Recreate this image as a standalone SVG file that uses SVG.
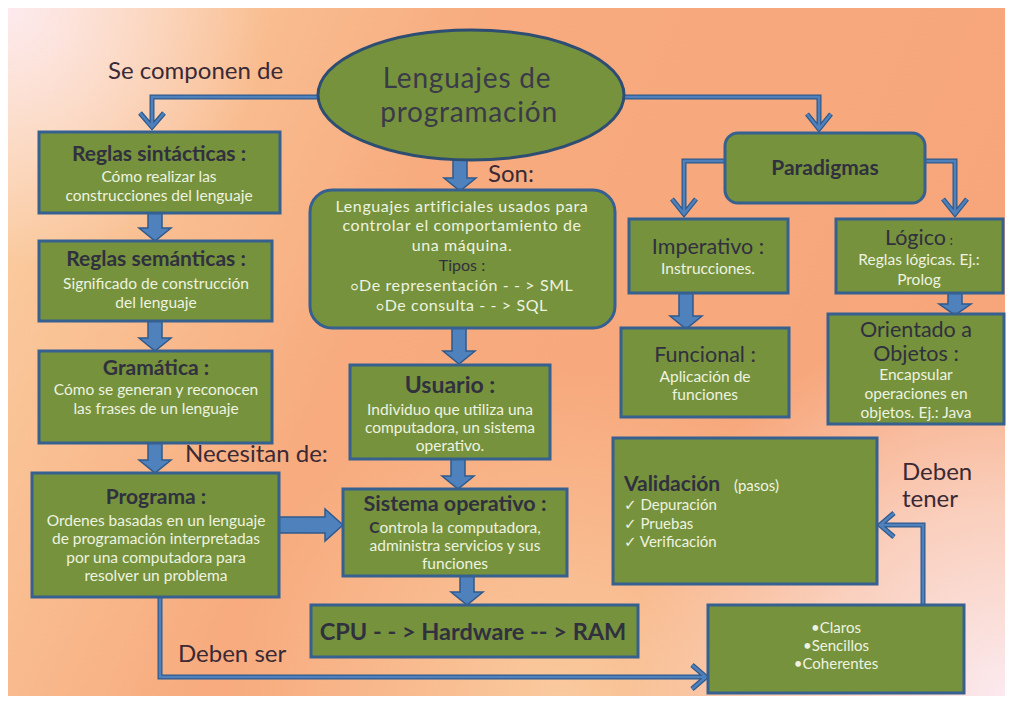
<svg xmlns="http://www.w3.org/2000/svg" width="1013" height="702" viewBox="0 0 1013 702">
<defs>
<linearGradient id="bg" x1="0" y1="0" x2="1" y2="0.3">
<stop offset="0" stop-color="#fbd2a5"/>
<stop offset="0.45" stop-color="#f7ab7e"/>
<stop offset="1" stop-color="#f7a67b"/>
</linearGradient>
<radialGradient id="tl" cx="8" cy="8" r="260" gradientUnits="userSpaceOnUse">
<stop offset="0" stop-color="#fdeaee" stop-opacity="1"/>
<stop offset="1" stop-color="#fdeaee" stop-opacity="0"/>
</radialGradient>
<radialGradient id="br" cx="1005" cy="695" r="380" gradientUnits="userSpaceOnUse">
<stop offset="0" stop-color="#fbeaf0" stop-opacity="1"/>
<stop offset="0.5" stop-color="#fbe0d8" stop-opacity="0.7"/>
<stop offset="1" stop-color="#fbe0d8" stop-opacity="0"/>
</radialGradient>
<radialGradient id="bc" cx="560" cy="700" r="330" gradientUnits="userSpaceOnUse">
<stop offset="0" stop-color="#fad2a6" stop-opacity="0.8"/>
<stop offset="1" stop-color="#fad2a6" stop-opacity="0"/>
</radialGradient>
<style>
.box{fill:#76923c;stroke:#35608f;stroke-width:3}
.ell{fill:#76923c;stroke:#2d4d73;stroke-width:3}
.blk{fill:#4f81bd;stroke:#2f5a8c;stroke-width:1.5}
.ln{fill:none;stroke:#2f5a8c;stroke-width:5;stroke-linejoin:miter}
.lni{fill:none;stroke:#4f81bd;stroke-width:2.5;stroke-linejoin:miter}
text{font-family:Lato,"DejaVu Sans",sans-serif;text-anchor:middle}
.t{fill:#30303f;font-weight:bold;font-size:21px}
.tn{fill:#30303f;font-size:21.5px}
.w{fill:#eef3e0;font-size:15.5px}
.s{fill:#eef3e0;font-size:15px}
.lbl{fill:#3a2a35;font-size:24px;text-anchor:start}
.son{fill:#eef3e0;font-size:16px;letter-spacing:0.6px}
</style>
</defs>
<rect x="0" y="0" width="1013" height="702" fill="#ffffff"/>
<rect x="8" y="8" width="997" height="688" fill="url(#bg)"/>
<rect x="8" y="8" width="997" height="688" fill="url(#bc)"/>
<rect x="8" y="8" width="997" height="688" fill="url(#tl)"/>
<rect x="8" y="8" width="997" height="688" fill="url(#br)"/>

<g id="connectors">
<path class="ln" d="M318 97 H152 V126 M140 113 L152 127 L164 113"/>
<path class="lni" d="M318 97 H152 V126 M140 113 L152 127 L164 113"/>
<path class="ln" d="M625 97 H819 V128 M807 114 L819 129 L831 114"/>
<path class="lni" d="M625 97 H819 V128 M807 114 L819 129 L831 114"/>
<path class="ln" d="M725 161 H684 V213 M672 199 L684 214 L696 199"/>
<path class="lni" d="M725 161 H684 V213 M672 199 L684 214 L696 199"/>
<path class="ln" d="M925 161 H955 V213 M943 199 L955 214 L967 199"/>
<path class="lni" d="M925 161 H955 V213 M943 199 L955 214 L967 199"/>
<path class="ln" d="M160 597 V677 H705 M692 665 L706 677 L692 689"/>
<path class="lni" d="M160 597 V677 H705 M692 665 L706 677 L692 689"/>
<path class="ln" d="M923 605 V525 H881 M894 513 L880 525 L894 537"/>
<path class="lni" d="M923 605 V525 H881 M894 513 L880 525 L894 537"/>
<path class="blk" d="M453 158 H467 V178 H476 L460 191 L444 178 H453 Z"/>
<path class="blk" d="M452 328 H466 V351 H475 L459 364 L443 351 H452 Z"/>
<path class="blk" d="M451 459 H465 V476 H474 L458 489 L442 476 H451 Z"/>
<path class="blk" d="M460 576 H474 V592 H483 L467 605 L451 592 H460 Z"/>
<path class="blk" d="M148 213 H162 V228 H171 L155 241 L139 228 H148 Z"/>
<path class="blk" d="M148 321 H162 V338 H171 L155 351 L139 338 H148 Z"/>
<path class="blk" d="M148 443 H162 V460 H171 L155 473 L139 460 H148 Z"/>
<path class="blk" d="M679 293 H693 V316 H702 L686 329 L670 316 H679 Z"/>
<path class="blk" d="M948 293 H962 V304 H971 L955 315 L939 304 H948 Z"/>
<path class="blk" d="M279 517 H325 V509 L343 525 L325 541 V533 H279 Z"/>
</g>

<text class="lbl" x="108" y="79">Se componen de</text>
<text class="lbl" x="488" y="182">Son:</text>
<text class="lbl" x="185" y="462">Necesitan de:</text>
<text class="lbl" x="178" y="662">Deben ser</text>
<text class="lbl" x="902" y="480">Deben</text>
<text class="lbl" x="902" y="507">tener</text>

<g id="n-lenguajes">
<ellipse class="ell" cx="471" cy="95" rx="153" ry="65"/>
<text x="467" y="88" style="fill:#3a3a48;font-size:28px;letter-spacing:0.8px">Lenguajes de</text>
<text x="469" y="122" style="fill:#3a3a48;font-size:28px;letter-spacing:0.8px">programación</text>
</g>

<g id="n-sintacticas">
<rect class="box" x="39" y="132" width="241" height="81"/>
<text class="t" x="159" y="161">Reglas sintácticas :</text>
<text class="w" x="159" y="182">Cómo realizar las</text>
<text class="w" x="159" y="201">construcciones del lenguaje</text>
</g>

<g id="n-semanticas">
<rect class="box" x="39" y="241" width="233" height="80"/>
<text class="t" x="156" y="266">Reglas semánticas :</text>
<text class="w" x="156" y="289">Significado de construcción</text>
<text class="w" x="156" y="308">del lenguaje</text>
</g>

<g id="n-gramatica">
<rect class="box" x="39" y="351" width="233" height="92"/>
<text class="t" x="156" y="375">Gramática :</text>
<text class="w" x="156" y="395">Cómo se generan y reconocen</text>
<text class="w" x="156" y="414">las frases de un lenguaje</text>
</g>

<g id="n-programa">
<rect class="box" x="32" y="473" width="247" height="124"/>
<text class="t" x="156" y="504">Programa :</text>
<text class="w" x="156" y="526">Ordenes basadas en un lenguaje</text>
<text class="w" x="156" y="544">de programación interpretadas</text>
<text class="w" x="156" y="563">por una computadora para</text>
<text class="w" x="156" y="581">resolver un problema</text>
</g>

<g id="n-son">
<rect class="box" x="310" y="190" width="305" height="138" rx="22"/>
<text class="son" x="462" y="212">Lenguajes artificiales usados para</text>
<text class="son" x="462" y="231">controlar el comportamiento  de</text>
<text class="son" x="462" y="251">una máquina.</text>
<text class="son" x="462" y="271" style="fill:#30303f;letter-spacing:0">Tipos :</text>
<text class="son" x="462" y="291"><tspan font-size="12">○</tspan>De representación  - - &gt; SML</text>
<text class="son" x="462" y="311"><tspan font-size="12">○</tspan>De consulta - - &gt; SQL</text>
</g>

<g id="n-usuario">
<rect class="box" x="350" y="365" width="200" height="94"/>
<text class="t" x="450" y="393" style="font-size:23px">Usuario :</text>
<text class="w" x="450" y="415">Individuo que utiliza una</text>
<text class="w" x="450" y="433">computadora, un sistema</text>
<text class="w" x="450" y="451">operativo.</text>
</g>

<g id="n-sistema">
<rect class="box" x="343" y="489" width="224" height="87"/>
<text class="t" x="455" y="511" style="font-size:21.5px">Sistema operativo :</text>
<text class="w" x="455" y="533"><tspan style="fill:#30303f;font-weight:bold">C</tspan>ontrola la computadora,</text>
<text class="w" x="455" y="551">administra servicios y sus</text>
<text class="w" x="455" y="569">funciones</text>
</g>

<g id="n-cpu">
<rect class="box" x="311" y="605" width="327" height="52"/>
<text class="t" x="473" y="640" style="font-size:23.5px">CPU - - &gt;  Hardware -- &gt; RAM</text>
</g>

<g id="n-paradigmas">
<rect class="box" x="725" y="133" width="200" height="70" rx="13"/>
<text class="t" x="825" y="175">Paradigmas</text>
</g>

<g id="n-imperativo">
<rect class="box" x="629" y="219" width="159" height="74"/>
<text class="tn" x="708" y="254">Imperativo  :</text>
<text class="w" x="708" y="274">Instrucciones.</text>
</g>

<g id="n-logico">
<rect class="box" x="836" y="219" width="167" height="74"/>
<text class="tn" x="919" y="245">Lógico<tspan font-size="14"> :</tspan></text>
<text class="w" x="919" y="265">Reglas lógicas. Ej.:</text>
<text class="w" x="919" y="285">Prolog</text>
</g>

<g id="n-funcional">
<rect class="box" x="621" y="328" width="168" height="89"/>
<text class="tn" x="705" y="362">Funcional :</text>
<text class="w" x="705" y="382">Aplicación de</text>
<text class="w" x="705" y="400">funciones</text>
</g>

<g id="n-objetos">
<rect class="box" x="828" y="314" width="176" height="110"/>
<text class="tn" x="916" y="337">Orientado a</text>
<text class="tn" x="916" y="361">Objetos :</text>
<text class="w" x="916" y="380">Encapsular</text>
<text class="w" x="916" y="399">operaciones en</text>
<text class="w" x="916" y="418">objetos. Ej.: Java</text>
</g>

<g id="n-validacion">
<rect class="box" x="613" y="438" width="264" height="146"/>
<text class="t" x="624" y="491" style="text-anchor:start">Validación</text>
<text class="s" x="734" y="491" style="text-anchor:start">(pasos)</text>
<text class="s" x="624" y="510" style="text-anchor:start">✓ Depuración</text>
<text class="s" x="624" y="529" style="text-anchor:start">✓ Pruebas</text>
<text class="s" x="624" y="547" style="text-anchor:start">✓ Verificación</text>
</g>

<g id="n-cualidades">
<rect class="box" x="708" y="605" width="256" height="88"/>
<text class="s" x="836" y="633">•Claros</text>
<text class="s" x="836" y="651">•Sencillos</text>
<text class="s" x="836" y="669">•Coherentes</text>
</g>
</svg>
